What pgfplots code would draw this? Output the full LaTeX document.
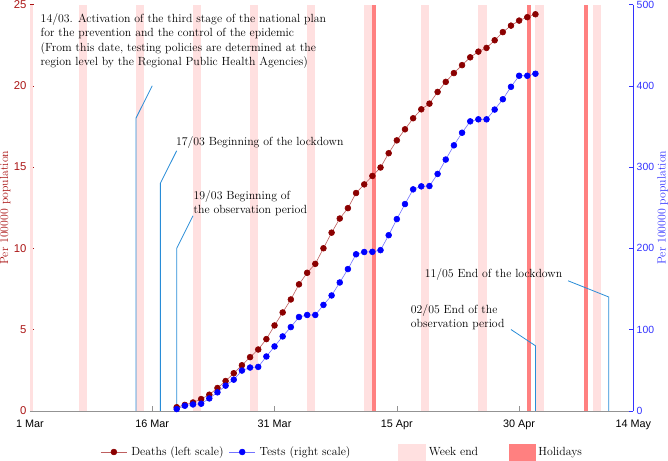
\documentclass[border=0pt]{standalone}
\usepackage{pgfplots}
\usepackage{pgfplotstable}
\pgfplotsset{compat=1.18}
\usepackage{fontspec}
\newfontfamily\ticksf{Liberation Sans}
\definecolor{deathc}{RGB}{139,0,0}
\definecolor{deathl}{RGB}{190,95,95}
\definecolor{testc}{RGB}{0,0,255}
\definecolor{testl}{RGB}{115,115,255}
\definecolor{weekend}{RGB}{255,224,224}
\definecolor{holiday}{RGB}{255,128,128}
\definecolor{annot}{RGB}{40,140,215}
\definecolor{leftc}{RGB}{170,20,20}
\definecolor{rightc}{RGB}{50,50,255}
\pgfplotstableread{
day value
18 0.22
19 0.36
20 0.51
21 0.72
22 0.99
23 1.40
24 1.83
25 2.31
26 2.80
27 3.30
28 3.77
29 4.41
30 5.25
31 6.05
32 6.85
33 7.78
34 8.49
35 9.04
36 10.00
37 10.96
38 11.83
39 12.47
40 13.40
41 13.93
42 14.45
43 14.97
44 15.85
45 16.64
46 17.32
47 18.00
48 18.55
49 18.90
50 19.62
51 20.24
52 20.78
53 21.27
54 21.75
55 22.10
56 22.33
57 22.80
58 23.30
59 23.70
60 24.01
61 24.22
62 24.40
}\deaths
\pgfplotstableread{
day value
18 2.1
19 6.2
20 7.8
21 8.7
22 15.2
23 22.7
24 30.9
25 38.3
26 49.5
27 53.2
28 54.0
29 66.8
30 79.2
31 91.5
32 103.0
33 115.4
34 117.9
35 117.9
36 130.3
37 141.9
38 157.9
39 174.4
40 192.6
41 195.4
42 195.6
43 197.7
44 216.1
45 235.9
46 254.4
47 272.5
48 276.2
49 276.6
50 291.5
51 309.2
52 326.7
53 342.2
54 356.2
55 358.7
56 358.7
57 370.7
58 383.4
59 398.7
60 412.3
61 412.3
62 414.8
}\tests
\newcommand{\txt}{\fontsize{11.8}{14.3}\selectfont}
\begin{document}
\begin{tikzpicture}[font=\txt]
\pgfplotsset{
  base/.style={
    scale only axis, width=600bp, height=404bp,
    xmin=0, xmax=74, tick align=inside,
    major tick length=4.5bp,
    ylabel style={font=\txt, inner sep=0pt},
    yticklabel style={inner ysep=0.5bp, inner xsep=3.2bp, /pgf/number format/assume math mode=true},
  },
  band/.style={draw=none, fill=#1, forget plot},
  ann/.style={annot, line width=0.8pt, forget plot},
}
\begin{axis}[base,
  ymin=0, ymax=25,
  axis x line*=bottom, axis y line*=left,
  x axis line style={draw=gray!85, -},
  y axis line style={draw=leftc, -},
  xtick={0,15,30,45,60,74},
  xticklabels={1 Mar,16 Mar,31 Mar,15 Apr,30 Apr,14 May},
  xticklabel style={font=\ticksf\fontsize{10.8}{13}\selectfont, yshift=-6bp},
  xtick style={draw=gray!85},
  ytick={0,5,...,25},
  ytick style={draw=leftc},
  yticklabel style={text=leftc, font=\ticksf\fontsize{11.3}{13}\selectfont},
  ylabel={Per 100000 population},
  ylabel style={text=leftc},
]
% week-end bands
\addplot[band=weekend] coordinates {(0,25)(0.4,25)} \closedcycle;
\addplot[band=weekend] coordinates {(6,25)(7,25)} \closedcycle;
\addplot[band=weekend] coordinates {(13,25)(14,25)} \closedcycle;
\addplot[band=weekend] coordinates {(20,25)(21,25)} \closedcycle;
\addplot[band=weekend] coordinates {(27,25)(28,25)} \closedcycle;
\addplot[band=weekend] coordinates {(34,25)(35,25)} \closedcycle;
\addplot[band=weekend] coordinates {(41,25)(42,25)} \closedcycle;
\addplot[band=weekend] coordinates {(48,25)(49,25)} \closedcycle;
\addplot[band=weekend] coordinates {(55,25)(56,25)} \closedcycle;
\addplot[band=weekend] coordinates {(62,25)(63,25)} \closedcycle;
\addplot[band=weekend] coordinates {(69,25)(70,25)} \closedcycle;
% holidays
\addplot[band=holiday] coordinates {(42,25)(42.5,25)} \closedcycle;
\addplot[band=holiday] coordinates {(61,25)(61.5,25)} \closedcycle;
\addplot[band=holiday] coordinates {(68,25)(68.5,25)} \closedcycle;
% annotation leaders
\addplot[ann] coordinates {(13,0)(13,18)(15,20)};
\addplot[ann] coordinates {(16,0)(16,14)(18,16)};
\addplot[ann] coordinates {(18,0)(18,10)(20,12)};
\addplot[ann] coordinates {(62,0)(62,4)(59,5)};
\addplot[ann] coordinates {(71,0)(71,7)(66,8)};
% deaths
\addplot[deathl, line width=0.6pt, mark=*, mark size=2.9pt, mark options={draw=deathc, fill=deathc}] table[x=day, y=value] {\deaths};
\node[anchor=north west, inner sep=0pt, align=left, font=\txt] at (axis cs:1.3,24.45)
 {14/03. Activation of the third stage of the national plan\\for the prevention and the control of the epidemic\\(From this date, testing policies are determined at the\\region level by the Regional Public Health Agencies)};
\node[anchor=west, inner sep=0pt, font=\txt] at (axis cs:17.9,16.5) {17/03 Beginning of the lockdown};
\node[anchor=west, inner sep=0pt, align=left, font=\txt] at (axis cs:20.05,12.76) {19/03 Beginning of\\the observation period};
\node[anchor=west, inner sep=0pt, align=left, font=\txt] at (axis cs:46.7,5.75) {02/05 End of the\\observation period};
\node[anchor=west, inner sep=0pt, font=\txt] at (axis cs:48.4,8.41) {11/05 End of the lockdown};
\end{axis}
\begin{axis}[base,
  ymin=0, ymax=500,
  axis x line=none, axis y line*=right,
  y axis line style={draw=rightc, -},
  ytick={0,100,...,500},
  ytick style={draw=rightc},
  yticklabel style={text=rightc, font=\ticksf\fontsize{10.4}{12}\selectfont},
  ylabel={Per 100000 population},
  ylabel style={text=rightc},
  legend columns=4,
  legend style={draw=none, fill=none, at={(0.117,-0.1015)}, anchor=west,
    inner sep=0pt, outer sep=0pt,
    font=\txt,
    nodes={inner sep=0pt},
    /tikz/column sep=0pt,
    /tikz/every even column/.append style={column sep=0pt}},
  legend image code/.code={%
    \draw[mark repeat=2,mark phase=2] plot coordinates {(0bp,0bp)(13bp,0bp)(26bp,0bp)};},
]
\addlegendimage{deathl, line width=0.6pt, mark=*, mark size=2.9pt, mark options={draw=deathc, fill=deathc}}
\addlegendentry{\hspace{4bp}\makebox[97bp][l]{Deaths (left scale)}}
\addplot[testl, line width=0.6pt, mark=*, mark size=2.9pt, mark options={draw=testc, fill=testc}] table[x=day, y=value] {\tests};
\addlegendentry{\hspace{4bp}\makebox[138bp][l]{Tests (right scale)}}
\addlegendimage{legend image code/.code={\fill[weekend] (0bp,-8bp) rectangle (26bp,8bp);}}
\addlegendentry{\hspace{4bp}\makebox[79.5bp][l]{Week end}}
\addlegendimage{legend image code/.code={\fill[holiday] (0bp,-8bp) rectangle (26bp,8bp);}}
\addlegendentry{\hspace{3bp}Holidays}
\end{axis}
\end{tikzpicture}
\end{document}
